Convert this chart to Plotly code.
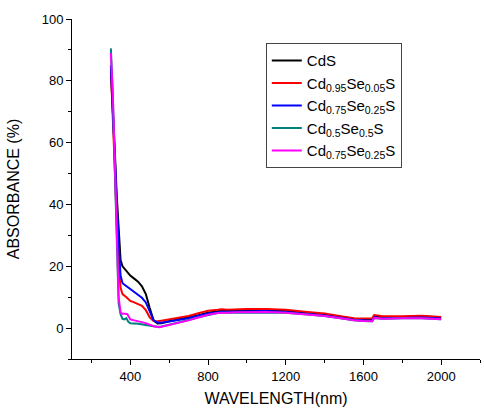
import plotly.graph_objects as go

# CdS
x_cds = [300, 310, 320, 330, 340, 350, 360, 380, 400, 420, 440, 460, 480, 500, 520, 540, 560, 600, 650, 700, 750, 800, 850, 870, 900, 950, 1000, 1100, 1200, 1300, 1400, 1500, 1550, 1600, 1645, 1655, 1700, 1800, 1900, 2000]
y_cds = [83, 72, 58, 43, 30, 22, 20, 18.5, 17, 16, 15, 13.5, 11, 6.5, 2.5, 1.5, 1.6, 2.2, 2.8, 3.4, 4.2, 5.0, 5.5, 5.6, 5.7, 5.8, 5.9, 5.9, 5.6, 5.0, 4.4, 3.5, 3.0, 2.9, 2.8, 3.9, 3.6, 3.6, 3.8, 3.4]

# Cd0.95Se0.05S
x_red = [300, 310, 320, 330, 340, 350, 360, 380, 400, 420, 440, 460, 480, 500, 520, 540, 560, 600, 650, 700, 750, 800, 850, 870, 900, 950, 1000, 1100, 1200, 1300, 1400, 1500, 1550, 1600, 1645, 1655, 1700, 1800, 1900, 2000]
y_red = [84, 70, 52, 35, 20, 13, 11, 10, 8.8, 8.3, 7.8, 7.2, 5.8, 3.5, 2.3, 2.2, 2.4, 2.9, 3.3, 3.9, 4.8, 5.6, 5.9, 6.1, 5.9, 6.1, 6.2, 6.2, 5.9, 5.3, 4.7, 3.7, 3.2, 3.1, 3.1, 4.2, 3.8, 3.8, 4.0, 3.6]

# Cd0.75Se0.25S
x_blue = [300, 310, 320, 330, 340, 350, 360, 380, 400, 420, 440, 460, 480, 500, 520, 540, 560, 600, 650, 700, 750, 800, 850, 870, 900, 950, 1000, 1100, 1200, 1300, 1400, 1500, 1550, 1600, 1645, 1655, 1700, 1800, 1900, 2000]
y_blue = [85, 72, 57, 41, 27, 17, 14.5, 13.5, 12.5, 11.5, 10.8, 9.8, 8.3, 5.5, 2.5, 1.8, 1.7, 2.1, 2.6, 3.2, 4.0, 4.7, 5.1, 5.3, 5.3, 5.4, 5.5, 5.5, 5.2, 4.7, 4.1, 3.2, 2.7, 2.5, 2.4, 3.5, 3.2, 3.3, 3.4, 3.1]

# Cd0.5Se0.5S
x_teal = [300, 310, 320, 330, 340, 350, 360, 370, 380, 390, 400, 440, 480, 500, 520, 540, 560, 600, 650, 700, 750, 800, 850, 870, 900, 950, 1000, 1100, 1200, 1300, 1400, 1500, 1550, 1600, 1645, 1655, 1700, 1800, 1900, 2000]
y_teal = [90.5, 75, 52, 25, 8, 4.5, 3, 2.8, 3.2, 2.0, 1.6, 1.4, 1.1, 0.9, 0.6, 0.4, 0.5, 1.1, 1.8, 2.6, 3.5, 4.3, 4.9, 5.0, 5.0, 5.1, 5.2, 5.2, 5.0, 4.5, 3.9, 3.0, 2.5, 2.3, 2.2, 3.3, 3.0, 3.2, 3.2, 2.9]

# Cd0.75Se0.25S (second)
x_mag = [300, 310, 320, 330, 340, 350, 360, 375, 385, 400, 440, 480, 500, 520, 550, 600, 650, 700, 750, 800, 850, 870, 900, 950, 1000, 1100, 1200, 1300, 1400, 1500, 1550, 1600, 1645, 1655, 1700, 1800, 1900, 2000]
y_mag = [89, 76, 55, 28, 10, 5, 4.6, 4.6, 4.5, 2.8, 2.3, 1.6, 1.1, 0.6, 0.3, 1.0, 1.7, 2.5, 3.4, 4.3, 4.9, 5.0, 5.0, 5.1, 5.2, 5.2, 5.0, 4.5, 3.9, 3.0, 2.5, 2.3, 2.2, 3.3, 3.0, 3.2, 3.2, 2.9]

series = [
    ("CdS", x_cds, y_cds, "#000000"),
    ("Cd<sub>0.95</sub>Se<sub>0.05</sub>S", x_red, y_red, "#ff0000"),
    ("Cd<sub>0.75</sub>Se<sub>0.25</sub>S", x_blue, y_blue, "#0000ff"),
    ("Cd<sub>0.5</sub>Se<sub>0.5</sub>S", x_teal, y_teal, "#008080"),
    ("Cd<sub>0.75</sub>Se<sub>0.25</sub>S", x_mag, y_mag, "#ff00ff"),
]

fig = go.Figure()
for name, xs, ys, c in series:
    fig.add_trace(go.Scatter(x=xs, y=ys, mode="lines", name=name,
                             line=dict(color=c, width=2)))

font_family = "Liberation Sans, Arial, sans-serif"
fig.update_layout(
    width=484, height=410,
    margin=dict(l=72, r=4, t=19, b=51),
    paper_bgcolor="white", plot_bgcolor="white",
    font=dict(family=font_family, color="black", size=13),
    showlegend=True,
    legend=dict(x=0.475, y=0.929, xanchor="left", yanchor="top",
                bordercolor="#444444", borderwidth=1, bgcolor="white",
                font=dict(size=15, family=font_family), tracegroupgap=0,
                itemwidth=30),
    xaxis=dict(range=[100, 2200], tickvals=[400, 800, 1200, 1600, 2000],
               ticks="outside", ticklen=5, tickcolor="black",
               showline=True, linecolor="black", linewidth=1,
               showgrid=False, zeroline=False,
               minor=dict(ticks="outside", ticklen=3, tickvals=[200, 600, 1000, 1400, 1800, 2200], tickcolor="black"),
               title=dict(text="WAVELENGTH(nm)", font=dict(size=16), standoff=10)),
    yaxis=dict(range=[-10, 100], tickvals=[0, 20, 40, 60, 80, 100],
               ticks="outside", ticklen=5, tickcolor="black",
               showline=True, linecolor="black", linewidth=1,
               showgrid=False, zeroline=False,
               minor=dict(ticks="outside", ticklen=3, tickvals=[-10, 10, 30, 50, 70, 90], tickcolor="black"),
               title=dict(text="ABSORBANCE (%)", font=dict(size=16), standoff=18)),
)

fig.write_html("out.html")
